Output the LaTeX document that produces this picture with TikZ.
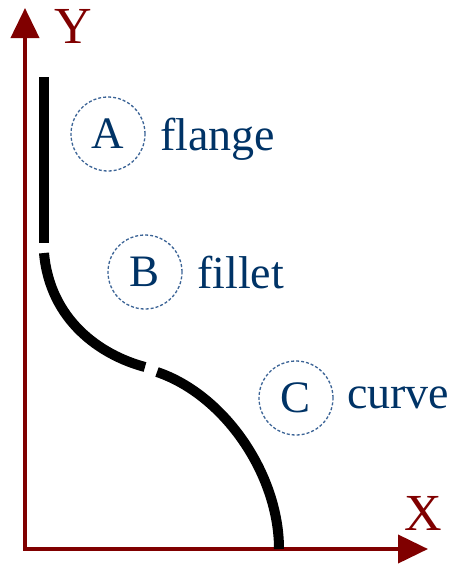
\documentclass[tikz,border=0pt]{standalone}
\usepackage{fontspec}
\setmainfont{Liberation Serif}
\usetikzlibrary{arrows.meta}

\definecolor{axisred}{RGB}{128,0,0}
\definecolor{labelblue}{RGB}{0,51,102}
\definecolor{ringblue}{RGB}{60,100,150}

\begin{document}
\begin{tikzpicture}[
    x=1pt, y=-1pt,
    axis/.style={draw=axisred, line width=4pt, -{Triangle[length=30pt, width=28pt]}},
    part/.style={draw=black, line width=10pt},
    tag/.style={
        circle, draw=ringblue, dashed, line width=1.3pt,
        dash pattern=on 3pt off 2pt,
        minimum size=74pt, inner sep=0pt,
        text=labelblue, font=\fontsize{45}{54}\selectfont
    },
    word/.style={anchor=base west, inner sep=0pt, text=labelblue, font=\fontsize{46}{55}\selectfont},
    axlabel/.style={text=axisred, inner sep=0pt, font=\fontsize{52}{62}\selectfont}
]
\useasboundingbox (0,0) rectangle (455,568);

% axes
\coordinate (origin) at (25,549);
\coordinate (ytip) at (25,8);
\coordinate (xtip) at (428,549);
\draw[axis] (origin) -- (ytip);
\draw[axis] ([xshift=-2pt]origin) -- (xtip);
\node[axlabel] (ylab) at (73,26) {Y};
\node[axlabel] (xlab) at (423,513) {X};

% profile
\coordinate (flangetop) at (44,77);
\coordinate (flangebot) at (44,243);
\coordinate (filletstart) at (44,253);
\coordinate (filletend) at (145,367);
\coordinate (curvestart) at (157,372);
\coordinate (curveend) at (279,549);
\draw[part] (flangetop) -- (flangebot);
\draw[part] (filletstart) .. controls (50,320) and (100,355) .. (filletend);
\draw[part] (curvestart) .. controls (225,395) and (279,475) .. (curveend);

% tags
\node[tag] (tagA) at (108,134) {A};
\node[word] (flange) at (160,150) {flange};
\node[tag] (tagB) at (145,272) {B};
\node[word] (fillet) at (197,288) {fillet};
\node[tag] (tagC) at (296,398) {C};
\node[word] (curve) at (347,408) {curve};

\end{tikzpicture}
\end{document}
